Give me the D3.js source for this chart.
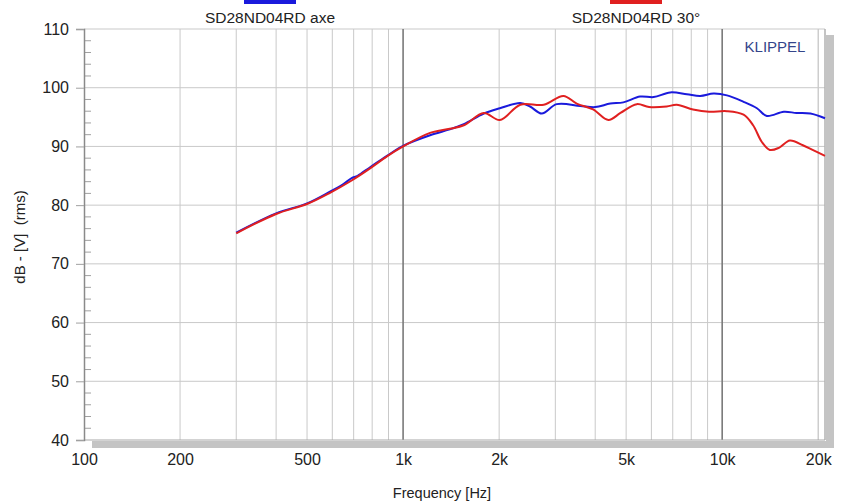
<!DOCTYPE html>
<html>
<head>
<meta charset="utf-8">
<script src="https://cdn.jsdelivr.net/npm/d3@7"></script>
<style>
  body { margin: 0; background: #fff; }
  svg { font-family: "Liberation Sans", Arial, sans-serif; }
</style>
</head>
<body>
<svg id="chart"></svg>
<script>
// on-axis response
const freqAxe = [300, 400, 500, 590, 650, 690, 720, 790, 890, 1000, 1215, 1400, 1550, 1790, 2010, 2330, 2500, 2720, 3030, 3590, 4000, 4460, 4900, 5530, 6100, 6870, 7750, 8530, 9400, 10350, 11670, 12850, 13800, 15600, 17100, 18900, 21000];
const dbAxe   = [75.3, 78.6, 80.3, 82.3, 83.6, 84.6, 85.0, 86.5, 88.4, 90.1, 91.9, 92.9, 93.8, 95.6, 96.5, 97.4, 96.8, 95.6, 97.2, 96.9, 96.7, 97.3, 97.5, 98.5, 98.4, 99.2, 98.9, 98.6, 99.0, 98.7, 97.6, 96.5, 95.2, 95.9, 95.7, 95.6, 94.8];
// 30 degrees off-axis
const freq30 = [300, 400, 500, 590, 690, 790, 890, 1000, 1215, 1400, 1550, 1790, 2010, 2330, 2760, 3180, 3500, 3940, 4400, 4800, 5400, 5900, 6700, 7200, 8100, 9100, 10350, 11670, 12500, 13300, 14100, 15100, 16300, 17900, 19200, 21000];
const db30   = [75.2, 78.5, 80.2, 82.1, 84.2, 86.3, 88.3, 90.0, 92.3, 93.0, 93.6, 95.7, 94.5, 97.1, 97.1, 98.6, 97.3, 96.3, 94.5, 95.7, 97.2, 96.7, 96.8, 97.1, 96.3, 95.9, 96.0, 95.4, 93.6, 90.8, 89.4, 89.8, 91.0, 90.2, 89.4, 88.4];

const xTicks = [100, 200, 500, 1000, 2000, 5000, 10000, 20000];
const xTickLabels = ["100", "200", "500", "1k", "2k", "5k", "10k", "20k"];
const yTicks = [40, 50, 60, 70, 80, 90, 100, 110];
const seriesNames = ["SD28ND04RD axe", "SD28ND04RD 30°"];
const seriesColors = ["#1a1adc", "#e02020"];

const width = 845, height = 504;
const m = { left: 84, right: 825, top: 29, bottom: 440 };

const svg = d3.select("#chart").attr("width", width).attr("height", height);

const x = d3.scaleLog().domain([100, 21000]).range([m.left, m.right]);
const y = d3.scaleLinear().domain([40, 110]).range([m.bottom, m.top]);

// shadow
svg.append("rect").attr("x", m.right + 1).attr("y", m.top + 6)
    .attr("width", 8).attr("height", m.bottom - m.top + 2).attr("fill", "#c4c4c4");
svg.append("rect").attr("x", m.left + 8).attr("y", m.bottom + 1)
    .attr("width", m.right - m.left + 1).attr("height", 7).attr("fill", "#c4c4c4");

// grid
const vGrid = [];
for (let d = 100; d <= 10000; d *= 10) {
    for (let k = 1; k <= 9; k++) vGrid.push(d * k);
}
vGrid.push(20000);

svg.append("g").selectAll("line")
    .data(vGrid.filter(f => f > 100 && f !== 1000 && f !== 10000))
    .join("line")
    .attr("x1", d => x(d)).attr("x2", d => x(d))
    .attr("y1", m.top).attr("y2", m.bottom)
    .attr("stroke", "#c9c9c9").attr("stroke-width", 1);

svg.append("g").selectAll("line")
    .data(yTicks.slice(1))
    .join("line")
    .attr("x1", m.left).attr("x2", m.right)
    .attr("y1", d => y(d)).attr("y2", d => y(d))
    .attr("stroke", "#c9c9c9").attr("stroke-width", 1);

svg.append("g").selectAll("line")
    .data([1000, 10000])
    .join("line")
    .attr("x1", d => x(d)).attr("x2", d => x(d))
    .attr("y1", m.top).attr("y2", m.bottom)
    .attr("stroke", "#7a7a7a").attr("stroke-width", 1.6);

// frame
svg.append("line").attr("x1", m.right).attr("x2", m.right).attr("y1", m.top).attr("y2", m.bottom)
    .attr("stroke", "#b0b0b0").attr("stroke-width", 1.5);
svg.append("line").attr("x1", m.left).attr("x2", m.right).attr("y1", m.bottom).attr("y2", m.bottom)
    .attr("stroke", "#a8a8a8").attr("stroke-width", 1.2);

// left axis with minor ticks
const minor = d3.range(42, 110, 2).filter(v => v % 10 !== 0);
svg.append("g").selectAll("line")
    .data(minor)
    .join("line")
    .attr("x1", m.left).attr("x2", m.left + 7)
    .attr("y1", d => y(d)).attr("y2", d => y(d))
    .attr("stroke", "#a0a0a0");

const yAxis = svg.append("g")
    .attr("transform", `translate(${m.left},0)`)
    .call(d3.axisLeft(y).tickValues(yTicks).tickSize(8).tickPadding(7));
yAxis.select(".domain").attr("stroke", "#8a8a8a").attr("stroke-width", 1.5);
yAxis.selectAll(".tick line").attr("stroke", "#a0a0a0");
yAxis.selectAll("text").attr("font-size", 16).attr("fill", "#222");

const xAxis = svg.append("g")
    .attr("transform", `translate(0,${m.bottom})`)
    .call(d3.axisBottom(x).tickValues(xTicks)
        .tickFormat((d, i) => xTickLabels[i]).tickSize(0).tickPadding(14));
xAxis.select(".domain").remove();
xAxis.selectAll("text").attr("font-size", 16).attr("fill", "#222");

// curves
const line = d3.line()
    .x(d => x(d[0])).y(d => y(d[1]))
    .curve(d3.curveCatmullRom.alpha(0.5));

const series = [d3.zip(freqAxe, dbAxe), d3.zip(freq30, db30)];

svg.append("path").datum(series[0])
    .attr("d", line).attr("fill", "none")
    .attr("stroke", seriesColors[0]).attr("stroke-width", 2);
svg.append("path").datum(series[1])
    .attr("d", line).attr("fill", "none")
    .attr("stroke", seriesColors[1]).attr("stroke-width", 2);

// legend
const legendX = [270, 636];
seriesNames.forEach((name, i) => {
    svg.append("rect").attr("x", legendX[i] - 26).attr("y", 0)
        .attr("width", 52).attr("height", 4).attr("fill", seriesColors[i]);
    svg.append("text").attr("x", legendX[i]).attr("y", 23)
        .attr("text-anchor", "middle").attr("font-size", 15.5).attr("fill", "#222")
        .text(name);
});

svg.append("text").attr("x", 775).attr("y", 52)
    .attr("text-anchor", "middle").attr("font-size", 15).attr("fill", "#34458a")
    .text("KLIPPEL");

// axis titles
svg.append("text").attr("x", 442).attr("y", 498)
    .attr("text-anchor", "middle").attr("font-size", 14.5).attr("fill", "#222")
    .text("Frequency [Hz]");

svg.append("text")
    .attr("transform", `translate(25,237) rotate(-90)`)
    .attr("text-anchor", "middle").attr("font-size", 15).attr("fill", "#222")
    .attr("xml:space", "preserve")
    .text("dB - [V]  (rms)");
</script>
</body>
</html>
